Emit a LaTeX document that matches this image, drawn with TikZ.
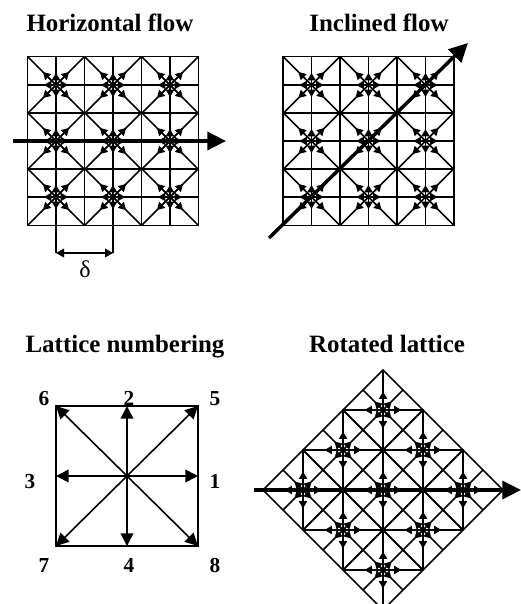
\documentclass[tikz,border=0pt]{standalone}
\usepackage{fontspec}
\setmainfont{Liberation Serif}
\usetikzlibrary{arrows.meta}
\tikzset{
  titlelab/.style = {font=\fontsize{18.7}{20}\selectfont\bfseries, inner sep=0pt, anchor=base},
  numlab/.style   = {font=\fontsize{16}{18}\selectfont\bfseries, inner sep=0pt, anchor=base},
  gridln/.style   = {draw=black, line width=1.2pt},
  velarrow/.style = {-{Triangle[length=5.5pt, width=6.2pt]}, line width=1pt},
  bigarrow/.style = {-{Triangle[length=9.5pt, width=9.5pt]}, line width=1.2pt},
  flow/.style     = {-{Triangle[length=14pt, width=13.5pt]}, line width=2.6pt},
  dimarrow/.style = {{Triangle[length=6pt, width=6.5pt]}-{Triangle[length=6pt, width=6.5pt]}, line width=1pt},
}
\newcommand{\latcell}[4]{%
  \begin{scope}[shift={(#1,#2)}, rotate=#3]
    \draw[gridln] (-#4,-#4) rectangle (#4,#4);
    \draw[gridln] (-#4,0) -- (#4,0);
    \draw[gridln] (0,-#4) -- (0,#4);
    \draw[gridln] (-#4,-#4) -- (#4,#4);
    \draw[gridln] (-#4,#4) -- (#4,-#4);
    \draw[velarrow] (0,0) -- (12,0);
    \draw[velarrow] (0,0) -- (-12,0);
    \draw[velarrow] (0,0) -- (0,12);
    \draw[velarrow] (0,0) -- (0,-12);
    \draw[velarrow] (0,0) -- (13,13);
    \draw[velarrow] (0,0) -- (-13,13);
    \draw[velarrow] (0,0) -- (13,-13);
    \draw[velarrow] (0,0) -- (-13,-13);
  \end{scope}}
\begin{document}
\begin{tikzpicture}[x=0.75pt, y=-0.75pt]
  \useasboundingbox (0,0) rectangle (521,604);
  \clip (0,0) rectangle (521,604);
  % top left
  \node[titlelab] (thoriz) at (110,31) {Horizontal flow};
  \latcell{56}{85}{0}{28.5}
  \latcell{113}{85}{0}{28.5}
  \latcell{170}{85}{0}{28.5}
  \latcell{56}{141}{0}{28.5}
  \latcell{113}{141}{0}{28.5}
  \latcell{170}{141}{0}{28.5}
  \latcell{56}{197}{0}{28.5}
  \latcell{113}{197}{0}{28.5}
  \latcell{170}{197}{0}{28.5}
  \coordinate (hin) at (13,141);
  \coordinate (hout) at (226,141);
  \draw[flow] (hin) -- (hout);
  \coordinate (da) at (56,225);
  \coordinate (db) at (113,225);
  \coordinate (dc) at (56,253);
  \coordinate (dd) at (113,253);
  \draw[line width=1.4pt] (da) -- (dc);
  \draw[line width=1.4pt] (db) -- (dd);
  \draw[dimarrow] (dc) -- (dd);
  \node[font=\fontsize{18}{20}\selectfont, inner sep=0pt] (dlab) at (85,269) {δ};
  % top right
  \node[titlelab] (tincl) at (379,31) {Inclined flow};
  \latcell{311.5}{85}{0}{28.5}
  \latcell{368.5}{85}{0}{28.5}
  \latcell{425.5}{85}{0}{28.5}
  \latcell{311.5}{141}{0}{28.5}
  \latcell{368.5}{141}{0}{28.5}
  \latcell{425.5}{141}{0}{28.5}
  \latcell{311.5}{197}{0}{28.5}
  \latcell{368.5}{197}{0}{28.5}
  \latcell{425.5}{197}{0}{28.5}
  \coordinate (iin) at (269,238);
  \coordinate (iout) at (468,43);
  \draw[flow] (iin) -- (iout);
  % bottom left
  \node[titlelab] (tnum) at (125,352) {Lattice numbering};
  \coordinate (O) at (127,476);
  \coordinate (c1) at (198,476);
  \coordinate (c2) at (127,406);
  \coordinate (c3) at (56,476);
  \coordinate (c4) at (127,546);
  \coordinate (c5) at (198,406);
  \coordinate (c6) at (56,406);
  \coordinate (c7) at (56,546);
  \coordinate (c8) at (198,546);
  \draw[line width=1.6pt] (c6) rectangle (c8);
  \draw[bigarrow] (O) -- (c1);
  \draw[bigarrow] (O) -- (c2);
  \draw[bigarrow] (O) -- (c3);
  \draw[bigarrow] (O) -- (c4);
  \draw[bigarrow] (O) -- (c5);
  \draw[bigarrow] (O) -- (c6);
  \draw[bigarrow] (O) -- (c7);
  \draw[bigarrow] (O) -- (c8);
  \node[numlab] (n1) at (215,488) {1};
  \node[numlab] (n2) at (129,405) {2};
  \node[numlab] (n3) at (30,488) {3};
  \node[numlab] (n4) at (129,572) {4};
  \node[numlab] (n5) at (215,405) {5};
  \node[numlab] (n6) at (44,405) {6};
  \node[numlab] (n7) at (44,572) {7};
  \node[numlab] (n8) at (215,572) {8};
  % bottom right
  \node[titlelab] (trot) at (387,352) {Rotated lattice};
  \latcell{383}{410}{45}{28.28}
  \latcell{343}{450}{45}{28.28}
  \latcell{423}{450}{45}{28.28}
  \latcell{303}{490}{45}{28.28}
  \latcell{383}{490}{45}{28.28}
  \latcell{463}{490}{45}{28.28}
  \latcell{343}{530}{45}{28.28}
  \latcell{423}{530}{45}{28.28}
  \latcell{383}{570}{45}{28.28}
  \coordinate (rin) at (254,490);
  \coordinate (rout) at (521,490);
  \draw[flow] (rin) -- (rout);
\end{tikzpicture}
\end{document}
